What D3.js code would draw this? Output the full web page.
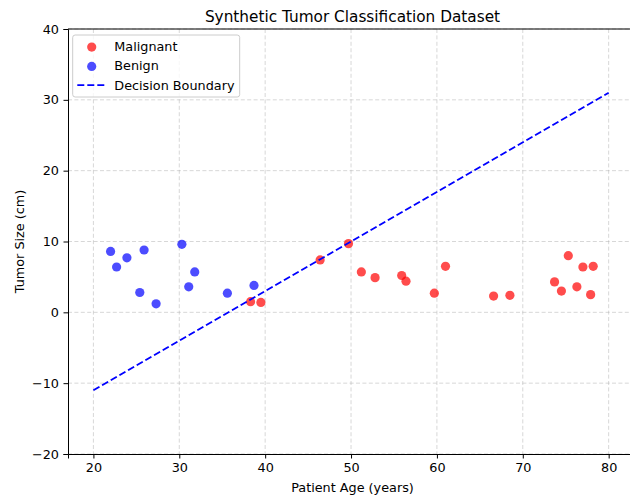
<!DOCTYPE html>
<html>
<head>
<meta charset="utf-8">
<script src="https://cdn.jsdelivr.net/npm/d3@7"></script>
<style>
  body { margin: 0; background: #fff; }
  svg { display: block; font-family: "DejaVu Sans", sans-serif; }
</style>
</head>
<body>
<div id="chart"></div>
<script>
// malignant cases
var malignantAge = [38.3, 39.5, 46.4, 49.7, 51.2, 52.8, 55.9, 56.4, 59.7, 61.0, 66.6, 68.5, 73.7, 74.5, 75.3, 76.3, 77.0, 77.9, 78.2];
var malignantSize = [1.5, 1.4, 7.4, 9.7, 5.7, 4.9, 5.2, 4.4, 2.7, 6.5, 2.3, 2.4, 4.3, 3.0, 8.0, 3.6, 6.4, 2.5, 6.5];
// benign cases
var benignAge = [22.0, 22.7, 23.9, 25.9, 25.4, 27.3, 30.3, 31.1, 31.8, 35.6, 38.7];
var benignSize = [8.6, 6.4, 7.7, 8.8, 2.8, 1.2, 9.6, 3.6, 5.7, 2.7, 3.8];
// decision boundary end points
var boundaryAge = [20, 80];
var boundarySize = [-11, 31];

var xTicks = [20, 30, 40, 50, 60, 70, 80];
var yTicks = [-20, -10, 0, 10, 20, 30, 40];

var width = 630, height = 496;
var margin = {left: 68, top: 29, right: -7, bottom: 42};
var W = width - margin.left - margin.right;
var H = height - margin.top - margin.bottom;

var svg = d3.select('#chart').append('svg')
  .attr('width', width).attr('height', height);

var x = d3.scaleLinear().domain([17.04, 83.3]).range([0, W]);
var y = d3.scaleLinear().domain([-20, 40]).range([H, 0]);

var g = svg.append('g')
  .attr('transform', 'translate(' + [margin.left, margin.top] + ')');

// grid
g.append('g').selectAll('line').data(xTicks).enter().append('line')
  .attr('x1', function(d){ return x(d); }).attr('x2', function(d){ return x(d); })
  .attr('y1', 0).attr('y2', H)
  .attr('stroke', '#b0b0b0').attr('stroke-opacity', 0.5)
  .attr('stroke-dasharray', '4,2.4').attr('stroke-width', 1);
g.append('g').selectAll('line').data(yTicks).enter().append('line')
  .attr('y1', function(d){ return y(d); }).attr('y2', function(d){ return y(d); })
  .attr('x1', 0).attr('x2', W)
  .attr('stroke', '#b0b0b0').attr('stroke-opacity', 0.5)
  .attr('stroke-dasharray', '4,2.4').attr('stroke-width', 1);

// points
function dots(ages, sizes, color){
  g.append('g').selectAll('circle').data(ages).enter().append('circle')
    .attr('cx', function(d){ return x(d); })
    .attr('cy', function(d, i){ return y(sizes[i]); })
    .attr('r', 4.6)
    .attr('fill', color).attr('fill-opacity', 0.7);
}
dots(malignantAge, malignantSize, 'red');
dots(benignAge, benignSize, 'blue');

// decision boundary
var line = d3.line()
  .x(function(d){ return x(d); })
  .y(function(d, i){ return y(boundarySize[i]); });
g.append('path').datum(boundaryAge)
  .attr('d', line)
  .attr('fill', 'none').attr('stroke', 'blue')
  .attr('stroke-width', 1.9).attr('stroke-dasharray', '7,3');

// axes
var xAxis = g.append('g').attr('transform', 'translate(0,' + H + ')')
  .call(d3.axisBottom(x).tickValues(xTicks).tickSize(4.5).tickPadding(4.5));
var yAxis = g.append('g')
  .call(d3.axisLeft(y).tickValues(yTicks).tickSize(4.5).tickPadding(4.5)
    .tickFormat(function(d){ return d < 0 ? '\u2212' + Math.abs(d) : d; }));
[xAxis, yAxis].forEach(function(a){
  a.selectAll('text').attr('font-size', 12.8).attr('fill', '#000')
    .attr('font-family', '"DejaVu Sans", sans-serif');
  a.selectAll('line').attr('stroke', '#000').attr('stroke-width', 1);
  a.select('.domain').attr('stroke', '#000').attr('stroke-width', 1);
});
// top spine
g.append('line').attr('x1', 0).attr('x2', W).attr('y1', 0).attr('y2', 0)
  .attr('stroke', '#000').attr('stroke-width', 1);

// titles
svg.append('text')
  .attr('x', margin.left + W / 2).attr('y', margin.top - 7.5)
  .attr('text-anchor', 'middle').attr('font-size', 15.3)
  .text('Synthetic Tumor Classification Dataset');
svg.append('text')
  .attr('x', margin.left + W / 2).attr('y', 492)
  .attr('text-anchor', 'middle').attr('font-size', 12.8)
  .text('Patient Age (years)');
svg.append('text')
  .attr('transform', 'translate(24,' + (margin.top + H / 2) + ') rotate(-90)')
  .attr('text-anchor', 'middle').attr('font-size', 12.8)
  .text('Tumor Size (cm)');

// legend
var legend = g.append('g').attr('transform', 'translate(4.7,6)');
legend.append('rect')
  .attr('width', 167).attr('height', 62).attr('rx', 2.5)
  .attr('fill', '#fff').attr('fill-opacity', 0.8)
  .attr('stroke', '#ccc').attr('stroke-width', 1);
var items = [
  {label: 'Malignant', color: 'red', kind: 'dot'},
  {label: 'Benign', color: 'blue', kind: 'dot'},
  {label: 'Decision Boundary', color: 'blue', kind: 'line'}
];
var item = legend.selectAll('.item').data(items).enter().append('g')
  .attr('class', 'item')
  .attr('transform', function(d, i){ return 'translate(0,' + (11.5 + i * 19.3) + ')'; });
item.filter(function(d){ return d.kind === 'dot'; }).append('circle')
  .attr('cx', 19).attr('cy', 0.6).attr('r', 4.6)
  .attr('fill', function(d){ return d.color; }).attr('fill-opacity', 0.7);
item.filter(function(d){ return d.kind === 'line'; }).append('line')
  .attr('x1', 4.6).attr('x2', 31.6).attr('y1', 0).attr('y2', 0)
  .attr('stroke', function(d){ return d.color; })
  .attr('stroke-width', 1.9).attr('stroke-dasharray', '7,3');
item.append('text')
  .attr('x', 41.6).attr('y', 0).attr('dy', '0.35em')
  .attr('font-size', 12.8)
  .text(function(d){ return d.label; });
</script>
</body>
</html>
